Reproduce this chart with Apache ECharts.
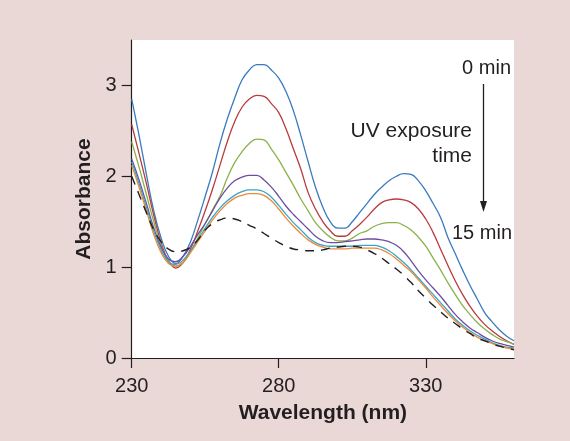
<!DOCTYPE html>
<html>
<head>
<meta charset="utf-8">
<script src="https://cdn.jsdelivr.net/npm/echarts@6/dist/echarts.min.js"></script>
<style>
html,body{margin:0;padding:0;background:#ead8d6;}
#chart{width:570px;height:441px;}
</style>
</head>
<body>
<div id="chart"></div>
<script>
// Wavelength grid (nm)
const wavelengths = [230,232.5,235,237.5,240,242.5,245,247.5,250,252.5,255,257.5,260,262.5,265,267.5,270,272.5,275,277.5,280,282.5,285,287.5,290,292.5,295,297.5,300,302.5,305,307.5,310,312.5,315,317.5,320,322.5,325,327.5,330,332.5,335,337.5,340,342.5,345,347.5,350,352.5,355,357.5,360];

// Absorbance spectra (0 min -> 15 min UV exposure)
const blue   = [2.85,2.45,2.02,1.62,1.32,1.12,1.04,1.12,1.28,1.52,1.78,2.05,2.36,2.63,2.86,3.06,3.17,3.23,3.23,3.17,3.08,2.93,2.72,2.45,2.16,1.88,1.66,1.50,1.43,1.43,1.50,1.60,1.70,1.80,1.88,1.95,2.00,2.03,2.02,1.95,1.84,1.70,1.55,1.33,1.15,0.97,0.80,0.65,0.50,0.40,0.31,0.24,0.19];
const red    = [2.57,2.25,1.92,1.57,1.27,1.07,0.99,1.05,1.20,1.40,1.62,1.86,2.12,2.38,2.60,2.76,2.85,2.89,2.88,2.80,2.70,2.52,2.30,2.08,1.82,1.64,1.50,1.40,1.34,1.34,1.40,1.47,1.55,1.64,1.71,1.74,1.75,1.74,1.71,1.64,1.53,1.38,1.20,1.02,0.85,0.70,0.57,0.46,0.37,0.30,0.24,0.19,0.15];
const green  = [2.38,2.10,1.80,1.50,1.24,1.07,1.01,1.05,1.17,1.32,1.48,1.63,1.78,1.98,2.15,2.27,2.36,2.41,2.40,2.30,2.18,2.04,1.90,1.75,1.62,1.49,1.40,1.33,1.29,1.29,1.32,1.37,1.40,1.45,1.48,1.49,1.49,1.46,1.41,1.33,1.23,1.10,0.97,0.83,0.70,0.58,0.48,0.39,0.32,0.26,0.21,0.18,0.15];
const purple = [2.19,1.96,1.70,1.43,1.22,1.09,1.06,1.12,1.23,1.36,1.48,1.62,1.76,1.87,1.95,1.99,2.01,2.01,1.96,1.88,1.78,1.67,1.58,1.50,1.42,1.34,1.29,1.27,1.27,1.28,1.29,1.30,1.31,1.31,1.30,1.28,1.24,1.17,1.07,0.96,0.86,0.77,0.68,0.58,0.48,0.40,0.33,0.28,0.23,0.19,0.16,0.14,0.12];
const cyan   = [2.16,1.92,1.66,1.40,1.19,1.06,1.03,1.08,1.18,1.30,1.43,1.55,1.65,1.73,1.79,1.83,1.85,1.85,1.83,1.77,1.68,1.58,1.49,1.41,1.33,1.27,1.24,1.23,1.23,1.23,1.23,1.24,1.24,1.24,1.22,1.18,1.12,1.05,0.97,0.88,0.79,0.70,0.61,0.52,0.43,0.36,0.30,0.25,0.21,0.17,0.14,0.12,0.11];
const orange = [2.12,1.88,1.62,1.36,1.16,1.04,1.01,1.06,1.16,1.28,1.40,1.52,1.62,1.70,1.76,1.79,1.81,1.81,1.79,1.73,1.64,1.54,1.45,1.37,1.30,1.25,1.22,1.20,1.20,1.20,1.21,1.21,1.21,1.21,1.19,1.15,1.09,1.02,0.95,0.86,0.77,0.67,0.58,0.49,0.41,0.34,0.28,0.23,0.19,0.16,0.13,0.11,0.10];
const dashed = [2.00,1.80,1.60,1.41,1.28,1.20,1.17,1.18,1.22,1.30,1.41,1.48,1.52,1.54,1.53,1.50,1.46,1.42,1.37,1.32,1.27,1.23,1.20,1.19,1.18,1.18,1.19,1.21,1.22,1.23,1.23,1.22,1.19,1.15,1.10,1.04,0.98,0.91,0.83,0.74,0.66,0.58,0.51,0.44,0.38,0.32,0.27,0.22,0.19,0.16,0.13,0.11,0.09];

const xTicks = [230, 280, 330];
const yTicks = [0, 1, 2, 3];

const FONT = '"Liberation Sans", Arial, Helvetica, sans-serif';
const INK = '#231f20';

function pts(arr){ return wavelengths.map((w,i)=>[w, arr[i]]); }
function mk(name, arr, color, extra){
  return Object.assign({
    name: name, type: 'line', data: pts(arr), showSymbol: false, smooth: 0.45,
    lineStyle: {color: color, width: 1.3}, itemStyle:{color: color}, z: 3, animation: false
  }, extra || {});
}

const chart = echarts.init(document.getElementById('chart'), null, {renderer:'canvas'});
chart.setOption({
  backgroundColor: '#ead8d6',
  animation: false,
  grid: {left: 131.7, top: 40, right: 56, bottom: 83, show: true, backgroundColor: '#ffffff', borderWidth: 0},
  xAxis: {
    type: 'value', min: 230, max: 360, interval: 50,
    name: 'Wavelength (nm)', nameLocation: 'middle', nameGap: 45,
    nameTextStyle: {fontFamily: FONT, fontSize: 21, fontWeight: 'bold', color: INK},
    axisLine: {show: true, onZero: false, lineStyle: {color: INK, width: 1.2}},
    axisTick: {show: true, inside: false, length: 10, customValues: xTicks, lineStyle: {color: INK, width: 1.2}},
    axisLabel: {fontFamily: FONT, fontSize: 20, color: INK, margin: 18, customValues: xTicks},
    splitLine: {show: false}
  },
  yAxis: {
    type: 'value', min: 0, max: 3.5, interval: 1,
    name: 'Absorbance', nameLocation: 'middle', nameGap: 36, nameRotate: 90,
    nameTextStyle: {fontFamily: FONT, fontSize: 21, fontWeight: 'bold', color: INK},
    axisLine: {show: true, onZero: false, lineStyle: {color: INK, width: 1.2}},
    axisTick: {show: true, inside: false, length: 10, customValues: yTicks, lineStyle: {color: INK, width: 1.2}},
    axisLabel: {fontFamily: FONT, fontSize: 20, color: INK, margin: 15, customValues: yTicks},
    splitLine: {show: false}
  },
  series: [
    mk('0 min', blue, '#3a7abf'),
    mk('red', red, '#b83b3d'),
    mk('green', green, '#8bb14b'),
    mk('purple', purple, '#6e4d9e'),
    mk('cyan', cyan, '#39a6c8'),
    mk('15 min', orange, '#ec8a3a'),
    mk('reference', dashed, INK, {lineStyle: {color: INK, width: 1.4, type: [9, 7]}, z: 4})
  ],
  graphic: [
    {type:'text', z: 10, style:{text:'0 min', x:511, y:68, align:'right', verticalAlign:'middle', font:'20px ' + FONT, fill: INK}},
    {type:'text', z: 10, style:{text:'UV exposure', x:472, y:131, align:'right', verticalAlign:'middle', font:'21px ' + FONT, fill: INK}},
    {type:'text', z: 10, style:{text:'time', x:472, y:156, align:'right', verticalAlign:'middle', font:'21px ' + FONT, fill: INK}},
    {type:'text', z: 10, style:{text:'15 min', x:512, y:233, align:'right', verticalAlign:'middle', font:'20px ' + FONT, fill: INK}},
    {type:'line', z: 10, shape:{x1:483.5, y1:84, x2:483.5, y2:203}, style:{stroke: INK, lineWidth: 1.3}},
    {type:'polygon', z: 10, shape:{points:[[480,201],[487,201],[483.5,212]]}, style:{fill: INK}}
  ]
});
</script>
</body>
</html>
